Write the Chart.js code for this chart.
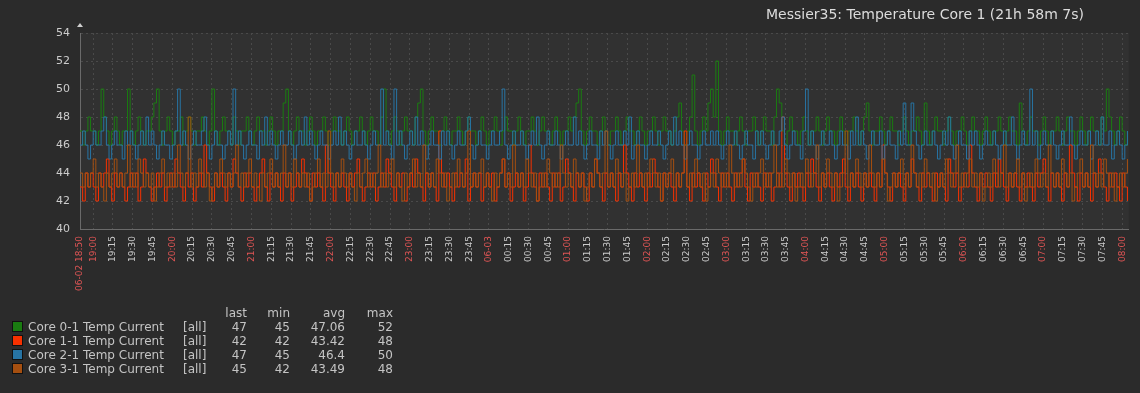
<!DOCTYPE html>
<html>
<head>
<meta charset="utf-8">
<script src="https://cdn.jsdelivr.net/npm/chart.js@4/dist/chart.umd.min.js"></script>
<style>
  html, body { margin: 0; padding: 0; background: #2b2b2b; }
  #wrap { position: relative; width: 1140px; height: 393px; font-family: "DejaVu Sans", sans-serif; color: #c4c4c4; }
  #title { position: absolute; left: 700px; width: 450px; top: 6px; text-align: center; font-size: 14px; color: #dcdcdc; }
  #legend { position: absolute; left: 12px; top: 306px; font-size: 12px; border-collapse: collapse; }
  #legend td { padding: 0; height: 14px; line-height: 14px; white-space: nowrap; }
  .box { display: inline-block; width: 9px; height: 9px; border: 1px solid #111; vertical-align: -1px; margin-right: 5px; }
  .num { text-align: right; }
</style>
</head>
<body>
<div id="wrap">
  <canvas id="graph" width="1140" height="393"></canvas>
  <div id="title">Messier35: Temperature Core 1 (21h 58m 7s)</div>
  <table id="legend"></table>
</div>
<script>
// minutes after 06-02 18:50, one sample every 2 minutes
const sampleMinutes = 2;
const startLabel = '06-02 18:50';
const tickMinutes = [0, 10, 25, 40, 55, 70, 85, 100, 115, 130, 145, 160, 175, 190, 205, 220, 235, 250, 265, 280, 295, 310,
  325, 340, 355, 370, 385, 400, 415, 430, 445, 460, 475, 490, 505, 520, 535, 550, 565, 580, 595, 610, 625, 640, 655, 670,
  685, 700, 715, 730, 745, 760, 775, 790];

const seriesNames = ['Core 0-1 Temp Current', 'Core 1-1 Temp Current', 'Core 2-1 Temp Current', 'Core 3-1 Temp Current'];
const seriesColors = ['#1A7C11', '#F63100', '#2774A4', '#A54F10'];
const legendLast = ['47', '42', '47', '45'];
const legendMin = ['45', '42', '45', '42'];
const legendAvg = ['47.06', '43.42', '46.4', '43.49'];
const legendMax = ['52', '48', '50', '48'];

const core0 = [
  47,46,47,48,47,47,46,47,50,48,47,46,47,48,47,46,47,47,50,47,
  46,47,48,47,46,47,47,48,49,50,47,46,47,48,47,46,47,47,48,46,
  47,48,47,46,47,47,48,47,46,47,50,47,46,47,48,47,47,46,48,47,
  46,47,47,48,47,46,47,48,47,47,46,47,48,47,46,47,47,49,50,47,
  46,47,48,47,47,46,47,48,47,46,47,47,48,47,46,47,48,47,47,46,
  47,48,47,46,47,47,48,47,46,47,48,47,47,46,48,50,47,46,47,48,
  47,46,47,48,47,47,46,48,49,50,47,46,47,48,47,47,46,47,48,47,
  46,47,47,48,47,46,47,48,47,47,46,47,48,47,46,47,47,48,47,46,
  47,48,47,47,46,47,48,47,46,47,47,48,47,46,47,48,47,47,46,47,
  48,47,46,47,47,48,47,48,49,50,47,46,47,48,47,47,46,47,48,47,
  46,47,47,48,47,46,47,48,47,47,46,47,48,47,46,47,47,48,47,46,
  47,48,47,47,46,47,48,49,47,46,47,48,51,47,46,47,48,47,49,50,
  48,52,47,46,47,48,47,47,46,47,48,47,46,47,47,48,47,46,47,48,
  47,47,46,48,50,49,47,46,47,48,47,47,46,47,48,47,46,47,47,48,
  47,46,47,48,47,47,46,47,48,47,46,47,47,48,47,46,47,48,49,47,
  46,47,47,48,47,46,47,48,47,47,46,47,48,47,46,47,47,48,47,46,
  49,47,46,47,48,47,47,46,47,48,47,46,47,47,48,47,46,47,48,47,
  47,46,47,48,47,46,47,47,48,47,46,47,48,47,47,46,49,47,46,47,
  48,47,47,46,47,48,47,46,47,47,48,47,46,47,48,47,47,46,47,48,
  47,46,47,48,47,47,46,48,47,50,48,47,46,47,48,47,46,47];
const core1 = [
  43,42,44,43,44,43,42,44,43,44,45,43,42,44,43,44,43,42,43,44,
  43,44,42,43,45,44,43,42,43,44,43,44,42,43,44,43,45,44,43,42,
  44,43,44,42,43,44,43,46,44,43,42,44,43,44,43,42,44,43,45,44,
  43,42,44,43,44,43,42,43,44,45,43,42,44,43,44,43,42,44,43,44,
  42,43,44,43,45,44,43,42,44,43,44,43,42,46,44,43,42,44,43,44,
  43,42,44,43,44,45,43,42,43,44,43,44,42,43,44,43,45,44,43,42,
  44,43,44,42,43,44,43,45,44,43,42,44,43,44,43,42,47,44,43,44,
  43,42,44,43,44,43,45,42,43,44,43,44,42,43,44,43,44,42,43,44,
  45,43,44,42,43,44,43,44,42,43,46,44,43,42,44,43,44,43,42,44,
  43,44,42,43,45,44,43,42,44,43,44,43,42,44,43,45,44,43,42,44,
  43,44,43,42,44,43,46,44,43,42,44,43,44,43,42,44,43,45,44,43,
  42,44,43,44,43,42,44,43,44,47,43,42,44,43,44,43,42,44,43,45,
  44,43,42,44,43,44,43,42,44,43,44,45,43,42,44,43,44,43,42,44,
  43,44,42,43,44,43,48,44,43,42,44,43,44,43,42,44,43,45,44,43,
  42,44,43,44,43,42,44,43,44,45,43,42,44,43,44,43,42,44,43,44,
  43,42,44,43,46,44,43,42,44,43,44,43,42,44,43,45,44,43,42,44,
  43,44,43,42,44,43,44,43,42,45,44,43,44,42,43,44,43,46,44,43,
  42,44,43,44,43,42,44,43,45,44,43,42,44,43,44,43,42,44,43,44,
  43,42,44,43,44,45,43,42,44,43,44,43,42,44,43,46,44,43,42,44,
  43,44,43,42,44,43,45,44,43,42,44,43,44,43,42,44,43,42];
const core2 = [
  46,47,46,45,46,47,46,46,47,48,46,45,46,47,46,46,45,47,46,47,
  46,45,46,47,46,48,46,47,46,45,46,47,46,46,45,46,47,50,46,47,
  46,45,46,47,46,46,47,48,46,45,46,47,46,46,45,46,47,46,50,46,
  47,46,45,46,47,46,46,45,47,46,48,46,47,46,45,46,47,46,46,47,
  46,45,46,47,46,48,46,47,46,45,46,47,46,46,45,46,47,46,48,46,
  47,46,45,46,47,46,46,47,46,45,46,47,46,46,50,46,47,46,45,50,
  46,47,46,45,46,47,46,48,46,47,46,45,46,47,46,46,45,47,46,47,
  46,45,46,47,46,46,47,48,46,45,46,47,46,46,45,46,47,46,46,47,
  50,46,45,46,47,46,46,47,46,45,46,47,46,48,46,45,46,47,46,46,
  47,46,45,46,47,46,46,48,46,47,46,45,46,47,46,46,45,47,46,47,
  46,45,46,47,46,46,47,46,48,45,46,47,46,46,45,46,47,46,46,47,
  46,45,46,47,46,48,46,47,46,45,46,47,46,46,45,46,47,46,46,47,
  46,47,46,45,46,47,46,46,47,46,45,46,47,46,46,45,47,46,47,46,
  45,46,47,46,46,47,48,46,45,46,47,46,46,45,47,50,46,47,46,45,
  46,47,46,46,47,46,45,46,47,46,46,45,47,46,48,46,47,46,45,46,
  47,46,46,47,45,46,47,46,46,45,47,46,49,46,46,49,47,46,45,46,
  47,46,46,47,46,45,46,47,46,48,46,45,46,47,46,46,45,47,46,47,
  46,45,46,47,46,46,47,46,45,46,47,46,46,48,46,45,46,47,46,46,
  50,46,47,45,46,47,46,46,47,46,45,46,47,46,46,48,46,45,46,47,
  46,46,47,45,46,47,46,48,46,46,47,45,46,47,46,45,46,47];
const core3 = [
  44,43,44,43,44,45,43,44,43,42,44,43,44,45,43,44,43,44,46,43,
  44,43,45,44,43,44,43,44,42,43,44,45,43,44,43,44,43,46,44,43,
  44,48,43,44,43,45,44,43,44,42,43,44,43,45,44,43,44,43,44,46,
  43,44,43,44,45,43,44,43,42,44,43,44,45,43,44,43,44,46,43,44,
  43,45,44,43,44,43,44,42,43,44,45,43,44,43,47,44,43,44,43,45,
  44,43,44,43,42,44,43,44,45,43,44,43,44,46,43,44,43,44,45,43,
  44,43,42,44,43,44,45,43,44,43,46,44,43,44,43,45,44,43,44,42,
  43,44,43,45,44,43,44,47,43,44,43,44,45,43,44,43,42,44,43,44,
  45,43,44,43,46,44,43,44,43,45,44,43,44,42,43,44,43,45,44,43,
  44,43,46,44,43,44,43,45,44,43,44,42,43,44,43,45,44,43,44,47,
  43,44,43,45,44,43,44,42,43,44,43,46,44,43,44,43,45,44,43,44,
  42,44,43,44,45,43,44,43,44,46,43,44,43,45,44,43,44,42,43,44,
  43,45,44,43,44,43,46,44,43,44,43,45,44,43,42,44,43,44,45,43,
  44,43,44,46,43,44,43,45,44,43,44,42,43,44,43,45,44,43,44,46,
  43,44,43,45,44,43,44,42,43,44,47,43,44,43,45,44,43,44,43,46,
  44,43,44,43,45,44,42,43,44,43,44,45,43,44,43,46,44,43,44,43,
  45,44,43,44,42,43,44,43,45,44,43,44,46,43,44,43,44,45,43,44,
  43,44,42,43,44,43,45,44,43,44,46,43,44,43,44,45,43,44,42,43,
  44,43,45,44,43,44,43,46,44,43,44,43,45,44,43,44,42,43,44,45,
  43,44,43,46,44,43,44,43,45,44,43,44,42,43,44,43,44,45];

const seriesValues = [core0, core1, core2, core3];

function tickText(v) {
  if (v === 0) return startLabel;
  const total = 18 * 60 + 50 + v;
  const h = Math.floor(total / 60) % 24;
  const m = total % 60;
  if (h === 0 && m === 0) return '06-03';
  return String(h).padStart(2, '0') + ':' + String(m).padStart(2, '0');
}
function isRed(v) {
  return v === 0 || (18 * 60 + 50 + v) % 60 === 0;
}

const plotBg = {
  id: 'plotBg',
  beforeDraw(chart) {
    const a = chart.chartArea, c = chart.ctx;
    c.save();
    c.fillStyle = '#2b2b2b';
    c.fillRect(0, 0, chart.width, chart.height);
    c.fillStyle = '#313131';
    c.fillRect(a.left, a.top, a.right - a.left, a.bottom - a.top);
    c.restore();
  },
  afterDraw(chart) {
    const a = chart.chartArea, c = chart.ctx;
    c.save();
    c.fillStyle = '#d0d0d0';
    c.beginPath();
    c.moveTo(a.left - 3, a.top - 6);
    c.lineTo(a.left + 3, a.top - 6);
    c.lineTo(a.left, a.top - 10);
    c.closePath();
    c.fill();
    c.restore();
  }
};

new Chart(document.getElementById('graph'), {
  type: 'line',
  data: {
    datasets: seriesValues.map((vals, k) => ({
      label: seriesNames[k],
      data: vals.map((v, i) => ({ x: i * sampleMinutes, y: v })),
      borderColor: seriesColors[k],
      borderWidth: 1,
      stepped: true,
      pointRadius: 0,
      fill: false,
      order: 4 - k
    }))
  },
  options: {
    responsive: false,
    animation: false,
    devicePixelRatio: 1,
    layout: { padding: { top: 33, right: 5, left: 0, bottom: 0 } },
    plugins: { legend: { display: false }, tooltip: { enabled: false } },
    scales: {
      x: {
        type: 'linear',
        min: 0,
        max: 795,
        afterBuildTicks: scale => { scale.ticks = tickMinutes.map(v => ({ value: v })); },
        afterFit: scale => { scale.height = 164; },
        ticks: {
          autoSkip: false,
          minRotation: 90,
          maxRotation: 90,
          padding: 7,
          font: { family: 'DejaVu Sans', size: 9 },
          color: ctx => isRed(ctx.tick.value) ? '#e05555' : '#cccccc',
          callback: v => tickText(v)
        },
        grid: { color: '#4a4a4a', drawTicks: false },
        border: { color: '#6a6a6a', width: 1, dash: [2, 3] }
      },
      y: {
        min: 40,
        max: 54,
        afterFit: scale => { scale.width = 80; },
        ticks: {
          stepSize: 2,
          padding: 10,
          font: { family: 'DejaVu Sans', size: 11 },
          color: '#cccccc'
        },
        grid: { color: '#4a4a4a', drawTicks: false },
        border: { color: '#6a6a6a', width: 1, dash: [2, 3] }
      }
    }
  },
  plugins: [plotBg]
});

// legend table under the graph
const legend = document.getElementById('legend');
const widths = [171, 30, 34, 43, 55, 48];
let html = '<tr><td style="width:' + widths[0] + 'px"></td><td style="width:' + widths[1] + 'px"></td>' +
  '<td class="num" style="width:' + widths[2] + 'px">last</td><td class="num" style="width:' + widths[3] + 'px">min</td>' +
  '<td class="num" style="width:' + widths[4] + 'px">avg</td><td class="num" style="width:' + widths[5] + 'px">max</td></tr>';
seriesNames.forEach((name, k) => {
  html += '<tr><td><span class="box" style="background:' + seriesColors[k] + '"></span>' + name + '</td>' +
    '<td>[all]</td><td class="num">' + legendLast[k] + '</td><td class="num">' + legendMin[k] + '</td>' +
    '<td class="num">' + legendAvg[k] + '</td><td class="num">' + legendMax[k] + '</td></tr>';
});
legend.innerHTML = html;
</script>
</body>
</html>
